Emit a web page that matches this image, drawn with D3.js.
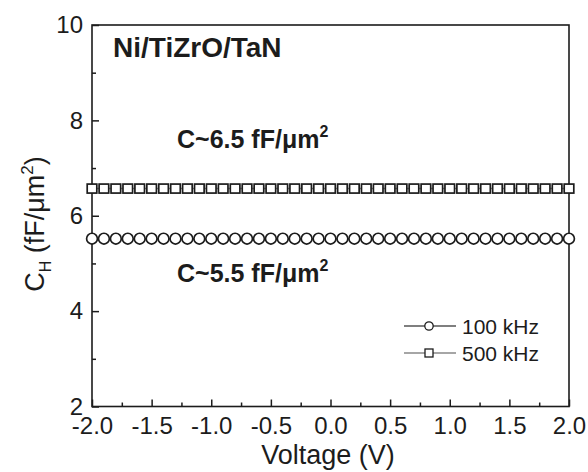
<!DOCTYPE html>
<html lang="en">
<head>
<meta charset="UTF-8">
<script src="https://cdnjs.cloudflare.com/ajax/libs/d3/7.8.5/d3.min.js"></script>
<title>C-V</title>
<style>
  body { margin: 0; background: #fff; }
  svg { display: block; font-family: 'Liberation Sans', Arial, sans-serif; }
</style>
</head>
<body>
<svg id="chart" width="588" height="472"></svg>
<script>
  // voltage sweep (V)
  var voltage = [-2.0, -1.9, -1.8, -1.7, -1.6, -1.5, -1.4, -1.3, -1.2, -1.1,
                 -1.0, -0.9, -0.8, -0.7, -0.6, -0.5, -0.4, -0.3, -0.2, -0.1,
                 0.0, 0.1, 0.2, 0.3, 0.4, 0.5, 0.6, 0.7, 0.8, 0.9,
                 1.0, 1.1, 1.2, 1.3, 1.4, 1.5, 1.6, 1.7, 1.8, 1.9, 2.0];
  // capacitance density (fF/um^2)
  var c100k = [5.52, 5.52, 5.52, 5.52, 5.52, 5.52, 5.52, 5.52, 5.52, 5.52,
               5.52, 5.52, 5.52, 5.52, 5.52, 5.52, 5.52, 5.52, 5.52, 5.52,
               5.52, 5.52, 5.52, 5.52, 5.52, 5.52, 5.52, 5.52, 5.52, 5.52,
               5.52, 5.52, 5.52, 5.52, 5.52, 5.52, 5.52, 5.52, 5.52, 5.52, 5.52];
  var c500k = [6.57, 6.57, 6.57, 6.57, 6.57, 6.57, 6.57, 6.57, 6.57, 6.57,
               6.57, 6.57, 6.57, 6.57, 6.57, 6.57, 6.57, 6.57, 6.57, 6.57,
               6.57, 6.57, 6.57, 6.57, 6.57, 6.57, 6.57, 6.57, 6.57, 6.57,
               6.57, 6.57, 6.57, 6.57, 6.57, 6.57, 6.57, 6.57, 6.57, 6.57, 6.57];
  var xTicks = [-2.0, -1.5, -1.0, -0.5, 0.0, 0.5, 1.0, 1.5, 2.0];
  var xMinor = [-1.75, -1.25, -0.75, -0.25, 0.25, 0.75, 1.25, 1.75];
  var yTicks = [2, 4, 6, 8, 10];
  var yMinor = [3, 5, 7, 9];
  var legendLabels = ["100 kHz", "500 kHz"];

  var ink = "#1c1c1c";
  var svg = d3.select("#chart");
  var x = d3.scaleLinear().domain([-2, 2]).range([92, 569]);
  var y = d3.scaleLinear().domain([2, 10]).range([406.5, 25]);

  // frame
  svg.append("rect")
    .attr("x", 92).attr("y", 25)
    .attr("width", 569 - 92).attr("height", 406.5 - 25)
    .attr("fill", "none").attr("stroke", ink).attr("stroke-width", 1.6);

  // axes (ticks inward)
  var xAxis = svg.append("g").attr("transform", "translate(0,406.5)")
    .call(d3.axisBottom(x).tickValues(xTicks).tickSize(-7).tickPadding(11)
      .tickFormat(function (d) { return d.toFixed(1); }));
  svg.append("g").attr("transform", "translate(0,406.5)")
    .call(d3.axisBottom(x).tickValues(xMinor).tickSize(-4).tickFormat(""));
  var yAxis = svg.append("g").attr("transform", "translate(92,0)")
    .call(d3.axisLeft(y).tickValues(yTicks).tickSize(-7).tickPadding(9));
  svg.append("g").attr("transform", "translate(92,0)")
    .call(d3.axisLeft(y).tickValues(yMinor).tickSize(-4).tickFormat(""));

  svg.selectAll(".domain").remove();
  svg.selectAll(".tick line").attr("stroke", ink).attr("stroke-width", 1.5);
  svg.selectAll(".tick text").attr("fill", ink).style("font-size", "24px")
    .style("font-family", "'Liberation Sans', Arial, sans-serif");
  xAxis.selectAll(".tick text").attr("dy", "0.7em");

  // series
  var line = d3.line().x(function (d, i) { return x(voltage[i]); }).y(function (d) { return y(d); });
  svg.append("path").datum(c500k).attr("d", line)
    .attr("fill", "none").attr("stroke", "#888").attr("stroke-width", 1.5);
  svg.append("path").datum(c100k).attr("d", line)
    .attr("fill", "none").attr("stroke", "#666").attr("stroke-width", 1.5);

  svg.append("g").selectAll("rect").data(c500k).enter().append("rect")
    .attr("x", function (d, i) { return x(voltage[i]) - 4.8; })
    .attr("y", function (d) { return y(d) - 4.5; })
    .attr("width", 9.6).attr("height", 9)
    .attr("fill", "#fff").attr("stroke", ink).attr("stroke-width", 1.7);

  svg.append("g").selectAll("circle").data(c100k).enter().append("circle")
    .attr("cx", function (d, i) { return x(voltage[i]); })
    .attr("cy", function (d) { return y(d); })
    .attr("r", 5.4)
    .attr("fill", "#fff").attr("stroke", ink).attr("stroke-width", 1.7);

  // annotations
  svg.append("text").attr("x", 113).attr("y", 57)
    .attr("fill", ink).style("font-size", "28px").style("font-weight", "bold")
    .text("Ni/TiZrO/TaN");

  function capLabel(ty, val) {
    var t = svg.append("text").attr("x", 177).attr("y", ty)
      .attr("fill", ink).style("font-size", "25px").style("font-weight", "bold");
    t.append("tspan").text("C~" + val + " fF/\u03bcm");
    t.append("tspan").attr("dy", -11).style("font-size", "16px").text("2");
  }
  capLabel(148, "6.5");
  capLabel(282, "5.5");

  // axis titles
  svg.append("text").attr("x", 328).attr("y", 464)
    .attr("text-anchor", "middle").attr("fill", ink).style("font-size", "27px")
    .text("Voltage (V)");

  var yt = svg.append("text").attr("transform", "translate(44,224) rotate(-90)")
    .attr("text-anchor", "middle").attr("fill", ink).style("font-size", "27px");
  yt.append("tspan").text("C");
  yt.append("tspan").attr("dy", 7).style("font-size", "16px").text("H");
  yt.append("tspan").attr("dy", -7).text(" (fF/\u03bcm");
  yt.append("tspan").attr("dy", -11).style("font-size", "17px").text("2");
  yt.append("tspan").attr("dy", 11).text(")");

  // legend
  var leg = svg.append("g").selectAll("g").data(legendLabels).enter().append("g")
    .attr("transform", function (d, i) { return "translate(0," + (326 + i * 27) + ")"; });
  leg.append("line").attr("x1", 404).attr("x2", 456).attr("y1", 0).attr("y2", 0)
    .attr("stroke", function (d, i) { return i === 0 ? "#555" : "#888"; }).attr("stroke-width", 1.5);
  leg.each(function (d, i) {
    var g = d3.select(this);
    if (i === 0) {
      g.append("circle").attr("cx", 429).attr("cy", 0).attr("r", 4.2)
        .attr("fill", "#fff").attr("stroke", ink).attr("stroke-width", 1.3);
    } else {
      g.append("rect").attr("x", 425).attr("y", -4).attr("width", 8).attr("height", 8)
        .attr("fill", "#fff").attr("stroke", ink).attr("stroke-width", 1.3);
    }
  });
  leg.append("text").attr("x", 462).attr("y", 7.5)
    .attr("fill", ink).style("font-size", "21px")
    .text(function (d) { return d; });
</script>
</body>
</html>
